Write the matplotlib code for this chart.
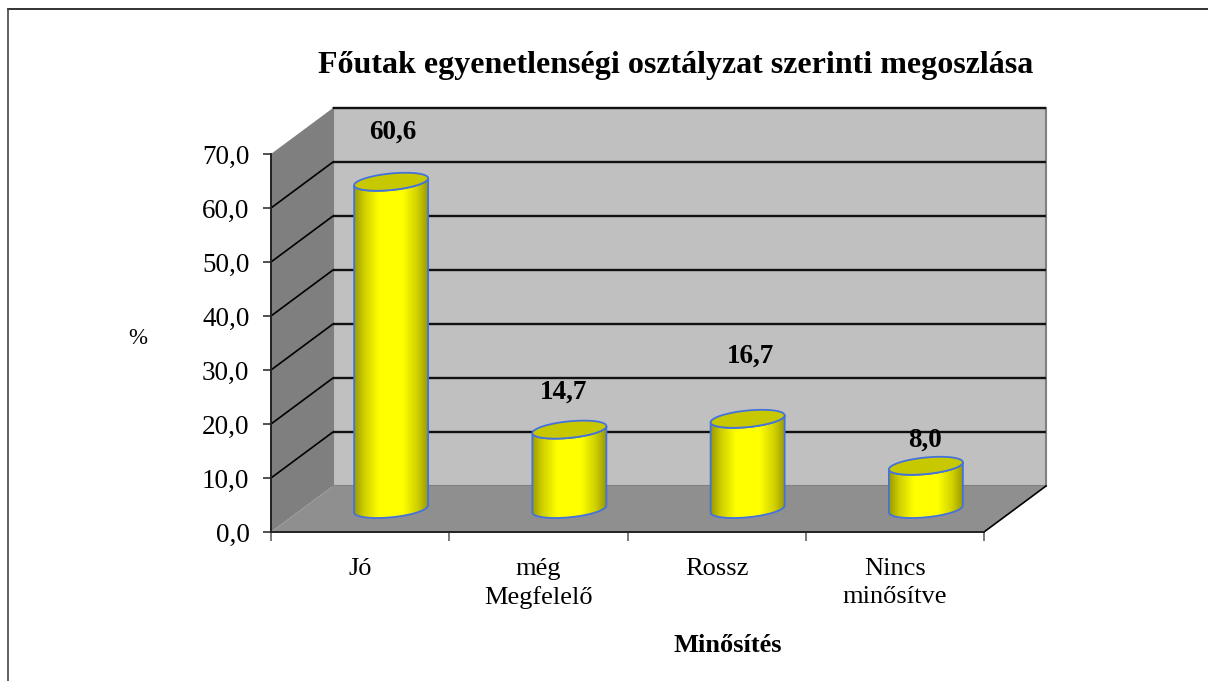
import numpy as np
import matplotlib
matplotlib.use("Agg")
import matplotlib.pyplot as plt
from matplotlib.colors import LinearSegmentedColormap
from matplotlib.lines import Line2D
from matplotlib.patches import Polygon

categories = ["Jó", "még\nMegfelelő", "Rossz", "Nincs\nminősítve"]
values = [60.6, 14.7, 16.7, 8.0]
value_labels = ["60,6", "14,7", "16,7", "8,0"]
label_offsets = [(2, 50), (-6, 37), (3, 63), (-1, 26)]
y_ticks = [0, 10, 20, 30, 40, 50, 60, 70]

W, H = 1208, 681
plt.rcParams["font.family"] = ["Liberation Serif", "DejaVu Serif"]

fig = plt.figure(figsize=(W / 100, H / 100), dpi=100)
ax = fig.add_axes([271 / W, 1 - 532 / H, 713 / W, 378 / H])
ax.set_xlim(0, 4)
ax.set_ylim(0, 70)
ax.patch.set_visible(False)

# 3d depth of the box in data units
px_x = 4 / 713
px_y = 70 / 378
depth_x = 62 * px_x
depth_y = 46 * px_y

back = Polygon([(depth_x, depth_y), (4 + depth_x, depth_y), (4 + depth_x, 70 + depth_y), (depth_x, 70 + depth_y)],
               fc="#c0c0c0", ec="#808080", lw=1.5, clip_on=False, zorder=1)
left = Polygon([(0, 0), (depth_x, depth_y), (depth_x, 70 + depth_y), (0, 70)],
               fc="#7f7f7f", ec="none", clip_on=False, zorder=1)
floor = Polygon([(0, 0), (4, 0), (4 + depth_x, depth_y), (depth_x, depth_y)],
                fc="#8f8f8f", ec="none", clip_on=False, zorder=1)
ax.add_patch(back)
ax.add_patch(left)
ax.add_patch(floor)

# gridlines run along the side wall and the back wall
for t in y_ticks[1:]:
    ax.plot([depth_x, 4 + depth_x], [t + depth_y, t + depth_y], color="#111111", lw=1.7,
            clip_on=False, zorder=2, solid_capstyle="butt")
    if t < 70:
        ax.plot([0, depth_x], [t, t + depth_y], color="black", lw=1.2, clip_on=False, zorder=2)
ax.plot([4, 4 + depth_x], [0, depth_y], color="black", lw=1.2, clip_on=False, zorder=2)

# cylinders
cmap = LinearSegmentedColormap.from_list(
    "cyl", [(0, "#9a9a00"), (0.14, "#d0d000"), (0.34, "#ffff00"), (0.66, "#ffff00"), (0.86, "#d0d000"), (1, "#9a9a00")])
grad = np.linspace(0, 1, 256).reshape(1, -1)
half_w = 37 * px_x
half_h = 8.3 * px_y
tilt = 3.5 * px_y
t = np.linspace(0, 2 * np.pi, 120)

for i, v in enumerate(values):
    cx = i + 0.5 + depth_x / 2
    base = depth_y / 2
    top = v + depth_y / 2
    xs = cx + half_w * np.cos(t)
    ring = half_h * np.sin(t) + tilt * np.cos(t)
    lower = t >= np.pi
    # outline of the side: lower half of the base, then back over the top
    side = np.r_[np.c_[xs[lower], base + ring[lower]],
                 np.c_[xs[lower][::-1], top + ring[lower][::-1]]]
    body = Polygon(side, fc="none", ec="#4472dc", lw=1.3, clip_on=False, zorder=4)
    ax.add_patch(body)
    im = ax.imshow(grad, cmap=cmap, aspect="auto", extent=[cx - half_w, cx + half_w, base - 10, top + 10],
                   zorder=3, clip_on=True)
    im.set_clip_path(body)
    ax.fill(xs, top + ring, fc="#c8c800", ec="#4472dc", lw=1.3, clip_on=False, zorder=5)
    ax.annotate(value_labels[i], (cx, top), xytext=label_offsets[i], textcoords="offset pixels",
                ha="center", va="center", fontsize=19.5, fontweight="bold", zorder=6, annotation_clip=False)

ax.set_xlim(0, 4)
ax.set_ylim(0, 70)

for side_name in ["top", "right"]:
    ax.spines[side_name].set_visible(False)
for side_name in ["left", "bottom"]:
    ax.spines[side_name].set_linewidth(1.4)
    ax.spines[side_name].set_color("#222222")
    ax.spines[side_name].set_zorder(2.5)

ax.set_yticks(y_ticks)
ax.set_yticklabels([f"{v:.1f}".replace(".", ",") for v in y_ticks], fontsize=19.5)
ax.tick_params(axis="y", length=5.5, width=1.1, color="#222222", pad=10)
ax.set_xticks(range(5))
ax.set_xticklabels([])
ax.tick_params(axis="x", length=6.5, width=1.1, color="#555555")
ax.set_xticks(np.arange(4) + 0.5, minor=True)
ax.set_xticklabels(categories, minor=True, fontsize=19, linespacing=1.35)
ax.tick_params(axis="x", which="minor", length=0, pad=18.5)

fig.text(676 / W, 1 - 65 / H, "Főutak egyenetlenségi osztályzat szerinti megoszlása",
         ha="center", va="center", fontsize=23, fontweight="bold")
fig.text(138 / W, 1 - 339 / H, "%", ha="center", va="center", fontsize=16.5)
fig.text(728 / W, 1 - 646 / H, "Minősítés", ha="center", va="center", fontsize=19, fontweight="bold")

# chart frame: only top and left edges show in the picture
fig.add_artist(Line2D([8 / W, 1], [1 - 9 / H, 1 - 9 / H], color="#111111", lw=1.2))
fig.add_artist(Line2D([8 / W, 8 / W], [0, 1 - 9 / H], color="#444444", lw=1.2))

fig.savefig("out.png", dpi=100)
